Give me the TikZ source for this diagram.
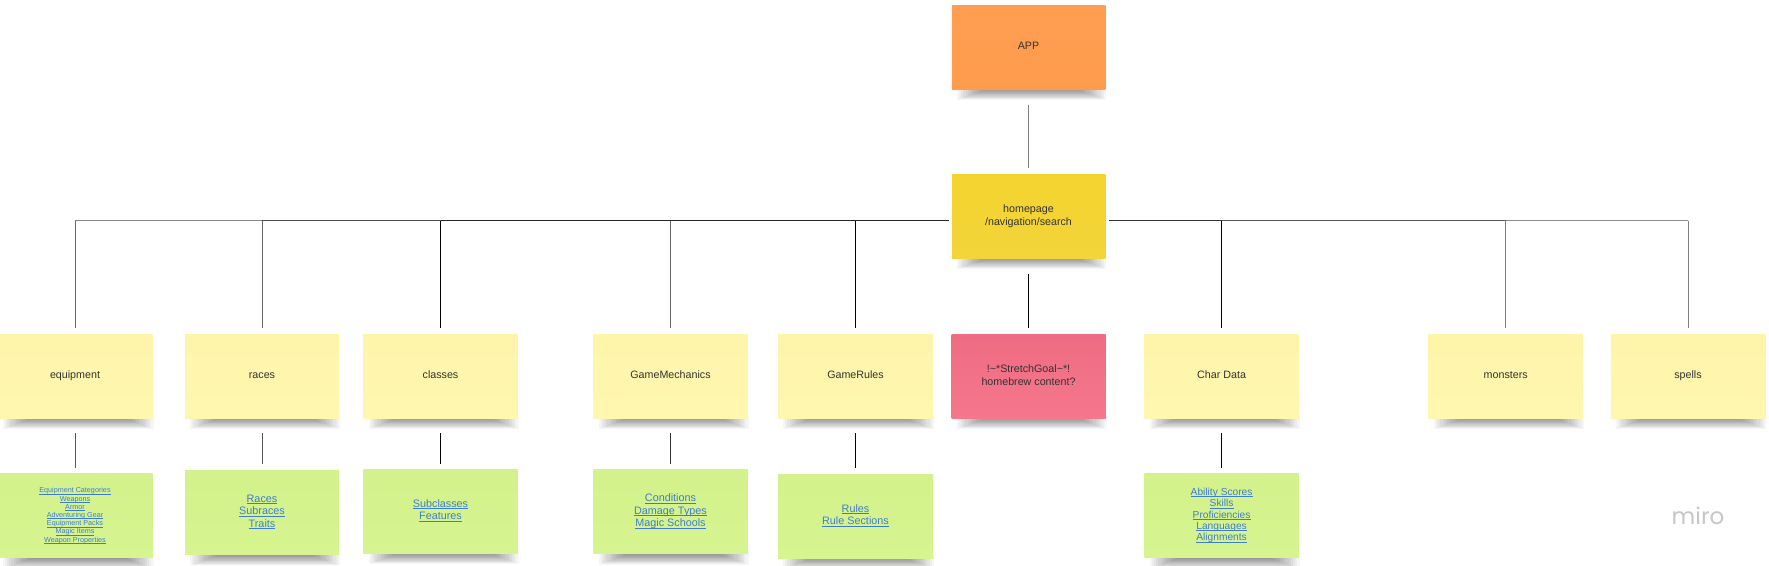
\documentclass[tikz,border=0pt]{standalone}
\usepackage{fontspec}
\setmainfont{Liberation Sans}
\newfontfamily\mirofont{Poppins}
\definecolor{appA}{HTML}{FF9E52}\definecolor{appB}{HTML}{FF9C4C}
\definecolor{homeA}{HTML}{F4D42E}\definecolor{homeB}{HTML}{F3D43A}
\definecolor{yelA}{HTML}{FEF5A9}\definecolor{yelB}{HTML}{FFF7B0}
\definecolor{grnA}{HTML}{D3F28B}\definecolor{grnB}{HTML}{D6F48F}
\definecolor{pnkA}{HTML}{EF6C82}\definecolor{pnkB}{HTML}{F5778C}
\definecolor{txt}{HTML}{333333}
\definecolor{lnkc}{HTML}{3F7DCF}
\newsavebox{\lnkb}
\newcommand{\lnk}[1]{\sbox{\lnkb}{#1}\hbox to \wd\lnkb{\rlap{\usebox{\lnkb}}\rlap{\rule[-1.5pt]{\wd\lnkb}{0.5pt}}\hss}}
\newcommand{\stack}[4]{\raisebox{#1pt}{\fontsize{#2}{#3}\selectfont\begin{tabular}{@{}c@{}}#4\end{tabular}}}
% name, cx, cy, w, top colour, bottom colour, content
\newcommand{\sticky}[7]{%
  \foreach \i in {0,...,13}{
    \fill[black,opacity=.035] ({#2-#4/2+5+2.2*\i},{#3+40}) rectangle ({#2+#4/2+1-2.2*\i},{#3+53-\i*0.8});
  }
  \node[stickybox,top color=#5,bottom color=#6,minimum width=#4pt] (#1) at (#2,#3) {#7};
}
\tikzset{
  stickybox/.style={minimum height=84pt,inner sep=0pt,text=txt},
  conn/.style={draw=#1,line width=1pt},
  conn/.default=black,
  bus/.style={draw=#1,line width=1.5pt},
}
\begin{document}
\begin{tikzpicture}[x=1pt,y=-1pt]
\useasboundingbox (0,0) rectangle (1769,565);
\fill[white] (0,0) rectangle (1769,565);
% stickies: top row
\sticky{app}{1028.5}{47}{153.5}{appA}{appB}{\stack{2}{10.7}{13}{APP}}
\sticky{home}{1028.5}{216}{153.5}{homeA}{homeB}{\stack{2.2}{10.7}{13}{homepage\\/navigation/search}}
% yellow row
\sticky{equipment}{75}{376}{155}{yelA}{yelB}{\stack{2.7}{10.7}{13}{equipment}}
\sticky{races}{262}{376}{154}{yelA}{yelB}{\stack{2.7}{10.7}{13}{races}}
\sticky{classes}{440.5}{376}{154}{yelA}{yelB}{\stack{2.7}{10.7}{13}{classes}}
\sticky{mechanics}{670.5}{376}{154}{yelA}{yelB}{\stack{2.7}{10.7}{13}{GameMechanics}}
\sticky{rules}{855.5}{376}{155}{yelA}{yelB}{\stack{2.7}{10.7}{13}{GameRules}}
\sticky{stretch}{1028.5}{376}{154}{pnkA}{pnkB}{\stack{2.7}{10.7}{13}{!\textasciitilde*StretchGoal\textasciitilde*!\\homebrew content?}}
\sticky{chardata}{1221.6}{376}{154}{yelA}{yelB}{\stack{2.7}{10.7}{13}{Char Data}}
\sticky{monsters}{1505.7}{376}{154}{yelA}{yelB}{\stack{2.7}{10.7}{13}{monsters}}
\sticky{spells}{1688}{376}{154.5}{yelA}{yelB}{\stack{2.7}{10.7}{13}{spells}}
% green row
\sticky{eqlist}{75}{515.8}{155}{grnA}{grnB}{\color{lnkc}\stack{2}{7.2}{8.2}{\lnk{Equipment Categories}\\\lnk{Weapons}\\\lnk{Armor}\\\lnk{Adventuring Gear}\\\lnk{Equipment Packs}\\\lnk{Magic Items}\\\lnk{Weapon Properties}}}
\sticky{raceslist}{262}{512.4}{154}{grnA}{grnB}{\color{lnkc}\stack{2.8}{10.8}{12.5}{\lnk{Races}\\\lnk{Subraces}\\\lnk{Traits}}}
\sticky{classlist}{440.5}{511}{154}{grnA}{grnB}{\color{lnkc}\stack{1.5}{10.8}{12.5}{\lnk{Subclasses}\\\lnk{Features}}}
\sticky{mechlist}{670.5}{511.8}{154}{grnA}{grnB}{\color{lnkc}\stack{2.2}{10.8}{12.5}{\lnk{Conditions}\\\lnk{Damage Types}\\\lnk{Magic Schools}}}
\sticky{ruleslist}{855.5}{516}{155}{grnA}{grnB}{\color{lnkc}\stack{2.3}{10.8}{12.7}{\lnk{Rules}\\\lnk{Rule Sections}}}
\sticky{charlist}{1221.6}{515.8}{154}{grnA}{grnB}{\color{lnkc}\stack{1.5}{10.2}{11.3}{\lnk{Ability Scores}\\\lnk{Skills}\\\lnk{Proficiencies}\\\lnk{Languages}\\\lnk{Alignments}}}
% junctions on the bus
\coordinate (j1) at (75,220.7);
\coordinate (j2) at (262,220.7);
\coordinate (j3) at (440.5,220.7);
\coordinate (j4) at (670.5,220.7);
\coordinate (j5) at (855.5,220.7);
\coordinate (j6) at (1221.6,220.7);
\coordinate (j7) at (1505.7,220.7);
\coordinate (j8) at (1688,220.7);
% bus
\draw[bus=gray!95!white] (j1) -- (j2);
\draw[bus=black!70] (j2) -- (j3);
\draw[bus=black!85] (j3) -- (j4) -- (j5);
\draw[bus=black!85,shorten >=3pt] (j5) -- (j5 -| home.west);
\draw[bus=black!80,shorten <=4pt] (j6 -| home.east) -- (j6);
\draw[bus=black!65] (j6) -- (j7);
\draw[bus=gray!90!white] (j7) -- (j8);
% drops from the bus
\draw[conn=black!60,shorten >=6pt] (j1) -- (equipment.north);
\draw[conn=black!60,shorten >=6pt] (j2) -- (races.north);
\draw[conn=black,shorten >=6pt] (j3) -- (classes.north);
\draw[conn=black!60,shorten >=6pt] (j4) -- (mechanics.north);
\draw[conn=black,shorten >=6pt] (j5) -- (rules.north);
\draw[conn=black,shorten >=6pt] (j6) -- (chardata.north);
\draw[conn=gray,shorten >=6pt] (j7) -- (monsters.north);
\draw[conn=gray,shorten >=6pt] (j8) -- (spells.north);
% vertical stubs
\draw[conn=gray,shorten <=16pt,shorten >=6pt] (app.south) -- (home.north);
\draw[conn=black,shorten <=15.3pt,shorten >=6.3pt] (home.south) -- (stretch.north);
\draw[conn=black!65,shorten <=15pt,shorten >=5.3pt] (equipment.south) -- (eqlist.north);
\draw[conn=black!65,shorten <=15pt,shorten >=6.7pt] (races.south) -- (raceslist.north);
\draw[conn=black,shorten <=15pt,shorten >=5.3pt] (classes.south) -- (classlist.north);
\draw[conn=black!80,shorten <=15pt,shorten >=6pt] (mechanics.south) -- (mechlist.north);
\draw[conn=black,shorten <=15pt,shorten >=6pt] (rules.south) -- (ruleslist.north);
\draw[conn=black,shorten <=15pt,shorten >=5.8pt] (chardata.south) -- (charlist.north);
% watermark
\node[text=black!22,inner sep=0pt,font=\mirofont\fontsize{23}{23}\selectfont] (miro) at (1698,516) {miro};
\end{tikzpicture}
\end{document}
